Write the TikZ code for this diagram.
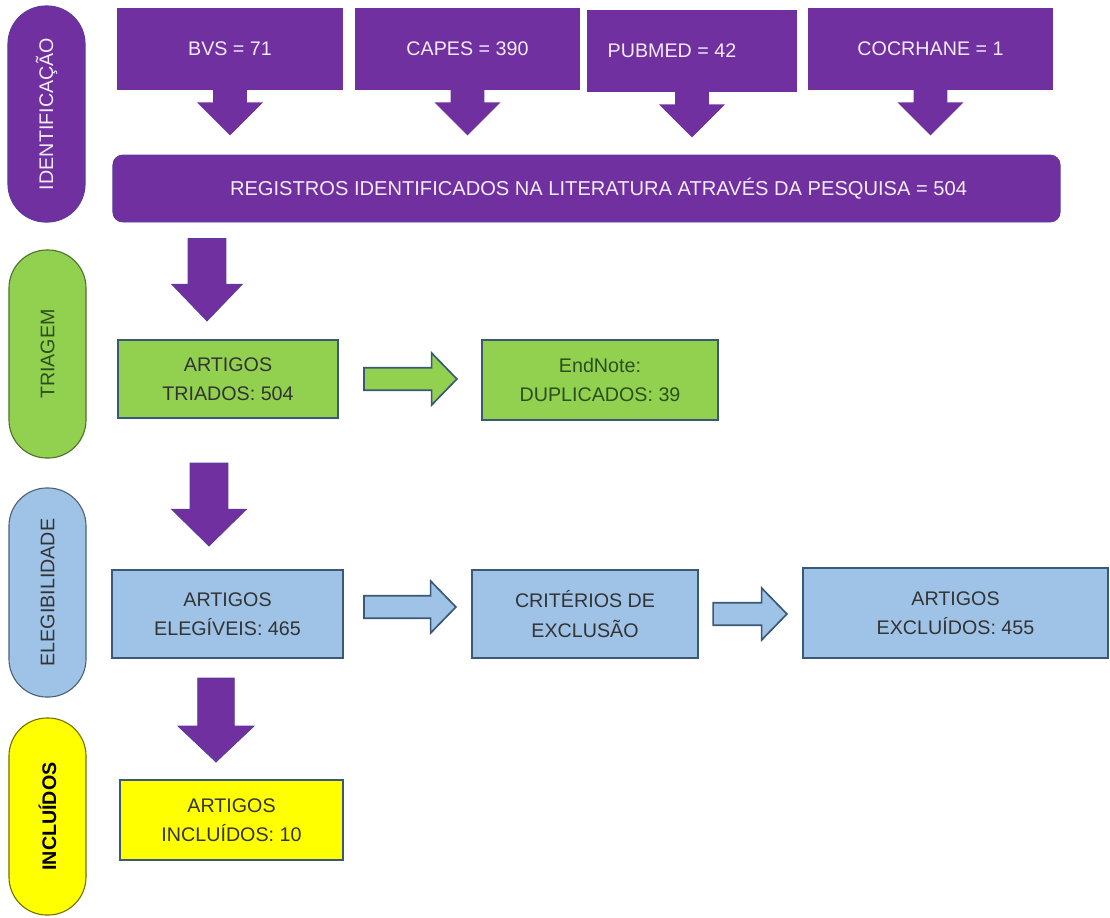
\documentclass[tikz,border=0pt]{standalone}
\usepackage{fontspec}
\setmainfont{Liberation Sans}
\usetikzlibrary{calc}

\definecolor{idpurple}{HTML}{7030A0}
\definecolor{idedge}{HTML}{5A3C9E}
\definecolor{idtext}{HTML}{F4ECFA}
\definecolor{trgreen}{HTML}{92D050}
\definecolor{trtext}{HTML}{2B4F1C}
\definecolor{elblue}{HTML}{9FC3E7}
\definecolor{inyellow}{HTML}{FFFF00}
\definecolor{boxedge}{HTML}{3B5876}
\definecolor{txtdark}{HTML}{333333}

% block arrows: style, from, to, shaft half, head half, head length
\newcommand{\downblock}[6]{%
\path[#1] let \p1=(#2), \p2=(#3) in
  (\x1-#4,\y1)--(\x1+#4,\y1)--(\x1+#4,\y2+#6)--(\x1+#5,\y2+#6)
  --(\x1,\y2)--(\x1-#5,\y2+#6)--(\x1-#4,\y2+#6)--cycle;}
\newcommand{\rightblock}[6]{%
\path[#1] let \p1=(#2), \p2=(#3) in
  (\x1,\y1-#4)--(\x2-#6,\y1-#4)--(\x2-#6,\y1-#5)--(\x2,\y1)
  --(\x2-#6,\y1+#5)--(\x2-#6,\y1+#4)--(\x1,\y1+#4)--cycle;}

\begin{document}
\begin{tikzpicture}[x=0.025cm, y=-0.025cm,
  every node/.style={font=\fontsize{14}{21}\selectfont, align=center, inner sep=0pt},
  pill/.style={rotate=90, rounded corners=0.95cm, line width=0.8pt, minimum height=1.925cm},
  srcbox/.style={fill=idpurple, text=idtext, minimum height=2.05cm},
  flowbox/.style={draw=boxedge, line width=1.5pt, text=txtdark},
  downarr/.style={fill=idpurple, draw=idedge, line width=0.6pt},
  rightarr/.style={draw=boxedge, line width=1.2pt}]
\useasboundingbox (0,0) rectangle (1110,917);

% phase labels
\node[pill, fill=idpurple, draw=idedge, text=idtext, minimum width=5.4cm] (ident) at (46.5,114) {IDENTIFICAÇÃO};
\node[pill, fill=trgreen, draw=trgreen!55!black, text=trtext, minimum width=5.2cm] (triag) at (47.5,354) {TRIAGEM};
\node[pill, fill=elblue, draw=elblue!50!black, text=txtdark, minimum width=5.225cm] (elegp) at (47.5,592.5) {ELEGIBILIDADE};
\node[pill, fill=inyellow, draw=inyellow!45!black, text=black, font=\fontsize{14}{21}\selectfont\bfseries, minimum width=4.925cm] (inclp) at (47.5,816.5) {INCLUÍDOS};

% identification
\node[srcbox, minimum width=5.65cm] (bvs) at (230,49) {BVS = 71};
\node[srcbox, minimum width=5.625cm] (capes) at (467.5,49) {CAPES = 390};
\node[srcbox, minimum width=5.25cm] (pubmed) at (692,51) {\hspace*{-1cm}PUBMED = 42};
\node[srcbox, minimum width=6.125cm] (cochrane) at (930.5,49) {COCRHANE = 1};
\foreach \s in {bvs,capes,pubmed,cochrane}{
  \downblock{fill=idpurple}{$(\s.south)+(0,-1)$}{$(\s.south)+(0,45)$}{12pt}{23.5pt}{23.5pt}
}

\node[fill=idpurple, draw=idedge, line width=0.6pt, rounded corners=0.25cm, text=idtext,
  minimum width=23.675cm, minimum height=1.675cm] (reg) at (586.5,188.5)
  {\hspace*{0.6cm}\fontsize{14.3}{21}\selectfont REGISTROS IDENTIFICADOS NA LITERATURA ATRAVÉS DA PESQUISA = 504};

% screening
\node[flowbox, fill=trgreen, minimum width=5.5cm, minimum height=1.95cm] (triados) at (228,379) {ARTIGOS\\TRIADOS: 504};
\node[flowbox, fill=trgreen, text=trtext, minimum width=5.9cm, minimum height=2cm] (endnote) at (600,380) {EndNote:\\DUPLICADOS: 39};
\downblock{downarr}{$(reg.south -| triados.north)+(-21,16)$}{$(triados.north)+(-21,-18)$}{13.5pt}{25pt}{26pt}
\rightblock{rightarr, fill=trgreen}{$(triados.east)+(25,0)$}{$(endnote.west)+(-24,0)$}{8pt}{18.5pt}{18pt}

% eligibility
\node[flowbox, fill=elblue, minimum width=5.775cm, minimum height=2.2cm] (elegiveis) at (227.5,614) {ARTIGOS\\ELEGÍVEIS: 465};
\node[flowbox, fill=elblue, minimum width=5.65cm, minimum height=2.2cm] (criterios) at (585,614) {CRITÉRIOS DE\\EXCLUSÃO};
\node[flowbox, fill=elblue, minimum width=7.625cm, minimum height=2.25cm] (excluidos) at (955.5,613) {ARTIGOS\\EXCLUÍDOS: 455};
\downblock{downarr}{$(triados.south -| elegiveis.north)+(-18.5,44)$}{$(elegiveis.north)+(-18.5,-23)$}{13.5pt}{26.5pt}{26pt}
\rightblock{rightarr, fill=elblue}{$(elegiveis.east)+(20,-7)$}{$(criterios.west)+(-15,-7)$}{8pt}{18.5pt}{18pt}
\rightblock{rightarr, fill=elblue}{$(criterios.east)+(14,0)$}{$(excluidos.west)+(-15,0)$}{8pt}{18.5pt}{18pt}

% included
\node[flowbox, fill=inyellow, minimum width=5.575cm, minimum height=2cm] (incluidos) at (231.5,820) {ARTIGOS\\INCLUÍDOS: 10};
\downblock{downarr}{$(elegiveis.south -| incluidos.north)+(-15.5,19)$}{$(incluidos.north)+(-15.5,-17)$}{13pt}{27pt}{25.5pt}
\end{tikzpicture}
\end{document}
